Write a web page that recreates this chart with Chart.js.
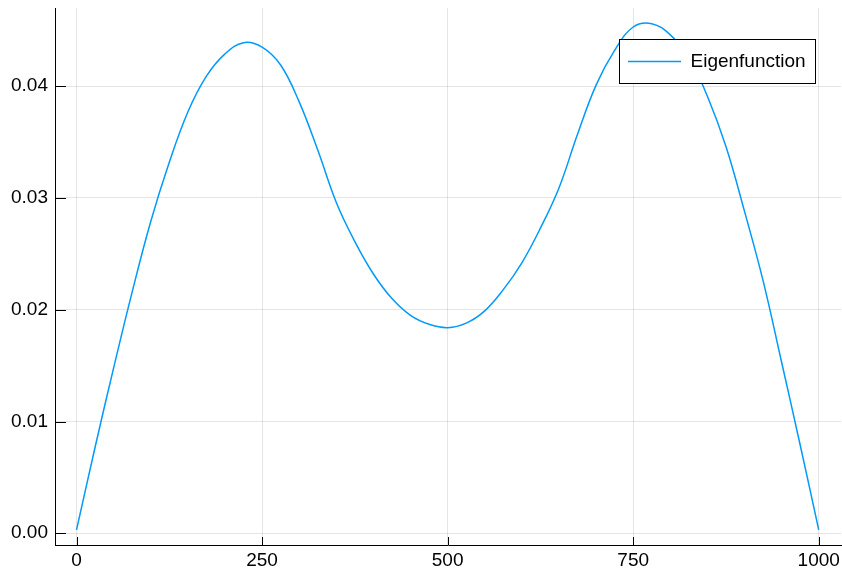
<!DOCTYPE html>
<html>
<head>
<meta charset="utf-8">
<script src="https://cdn.jsdelivr.net/npm/chart.js@4/dist/chart.umd.min.js"></script>
<style>
  html, body { margin: 0; padding: 0; background: #fff; }
  #chart { display: block; }
</style>
</head>
<body>
<canvas id="chart" width="842" height="569"></canvas>
<script>
// positions along the x axis (read every 25 units)
var xValues = [0, 25, 50, 75, 100, 125, 150, 175, 200, 225, 250, 275, 300, 325, 350, 375, 400, 425, 450, 475,
  500, 525, 550, 575, 600, 625, 650, 675, 700, 725, 750, 775, 800, 825, 850, 875, 900, 925, 950, 975, 1000];
// eigenfunction values
var eigenValues = [0.0003, 0.0077, 0.0148, 0.0216, 0.0279, 0.0332, 0.0377, 0.0409, 0.0429, 0.0439,
  0.0435, 0.0419, 0.0386, 0.0343, 0.0296, 0.0261, 0.0232, 0.0210, 0.0195, 0.0187,
  0.0184, 0.0188, 0.0199, 0.0218, 0.0242, 0.0273, 0.0309, 0.0357, 0.0401, 0.0432,
  0.0453, 0.0456, 0.0446, 0.0426, 0.0391, 0.0346, 0.0288, 0.0226, 0.0153, 0.0079, 0.0003];
var xTicks = [0, 250, 500, 750, 1000];
var yTicks = [0, 0.01, 0.02, 0.03, 0.04];
var seriesLabel = "Eigenfunction";

var lineColor = "#009AFA";
var gridColor = "rgba(0,0,0,0.1)";
var fontFamily = "'Liberation Sans', Arial, sans-serif";

var points = xValues.map(function(x, i) { return { x: x, y: eigenValues[i] }; });

// inward tick marks, Plots.jl style
var innerTicks = {
  id: "innerTicks",
  afterDraw: function(chart) {
    var ctx = chart.ctx, area = chart.chartArea;
    var xs = chart.scales.x, ys = chart.scales.y;
    ctx.save();
    ctx.strokeStyle = "#000";
    ctx.lineWidth = 1;
    ctx.beginPath();
    xTicks.forEach(function(v) {
      var px = Math.round(xs.getPixelForValue(v)) + 0.5;
      ctx.moveTo(px, area.bottom);
      ctx.lineTo(px, area.bottom - 8);
    });
    yTicks.forEach(function(v) {
      var py = Math.round(ys.getPixelForValue(v)) + 0.5;
      ctx.moveTo(area.left, py);
      ctx.lineTo(area.left + 11, py);
    });
    ctx.stroke();
    ctx.restore();
  }
};

// boxed legend in the top right corner
var boxLegend = {
  id: "boxLegend",
  afterDraw: function(chart) {
    var ctx = chart.ctx;
    var ds = chart.data.datasets[0];
    ctx.save();
    ctx.fillStyle = "#fff";
    ctx.fillRect(619.5, 39.5, 196, 44);
    ctx.strokeStyle = "#000";
    ctx.lineWidth = 1;
    ctx.strokeRect(619.5, 39.5, 196, 44);
    ctx.strokeStyle = ds.borderColor;
    ctx.lineWidth = ds.borderWidth;
    ctx.beginPath();
    ctx.moveTo(628, 61.5);
    ctx.lineTo(681, 61.5);
    ctx.stroke();
    ctx.fillStyle = "#000";
    ctx.font = "19px " + fontFamily;
    ctx.textBaseline = "middle";
    ctx.textAlign = "left";
    ctx.fillText(ds.label, 690.5, 62);
    ctx.restore();
  }
};

new Chart(document.getElementById("chart").getContext("2d"), {
  type: "line",
  data: {
    datasets: [{
      label: seriesLabel,
      data: points,
      borderColor: lineColor,
      borderWidth: 1.5,
      pointRadius: 0,
      fill: false,
      tension: 0.4
    }]
  },
  options: {
    responsive: false,
    animation: false,
    layout: { autoPadding: false, padding: { top: 8, right: 1, left: 0, bottom: 0 } },
    plugins: {
      legend: { display: false },
      tooltip: { enabled: false }
    },
    scales: {
      x: {
        type: "linear",
        min: -29,
        max: 1030,
        afterBuildTicks: function(scale) { scale.ticks = xTicks.map(function(v) { return { value: v }; }); },
        afterFit: function(scale) {
          scale.height = 24;
          scale.paddingLeft = 0;
          scale.paddingRight = 0;
        },
        grid: { color: gridColor, drawTicks: false },
        border: { display: true, color: "#000", width: 1 },
        ticks: {
          color: "#000",
          padding: 4,
          maxRotation: 0,
          font: { family: fontFamily, size: 19 },
          callback: function(v) { return String(v); }
        }
      },
      y: {
        type: "linear",
        min: -0.00105,
        max: 0.0470,
        afterBuildTicks: function(scale) { scale.ticks = yTicks.map(function(v) { return { value: v }; }); },
        afterFit: function(scale) {
          scale.width = 55;
          scale.paddingTop = 0;
          scale.paddingBottom = 0;
        },
        grid: { color: gridColor, drawTicks: false },
        border: { display: true, color: "#000", width: 1 },
        ticks: {
          color: "#000",
          padding: 7,
          font: { family: fontFamily, size: 19 },
          callback: function(v) { return Number(v).toFixed(2); }
        }
      }
    }
  },
  plugins: [innerTicks, boxLegend]
});
</script>
</body>
</html>
